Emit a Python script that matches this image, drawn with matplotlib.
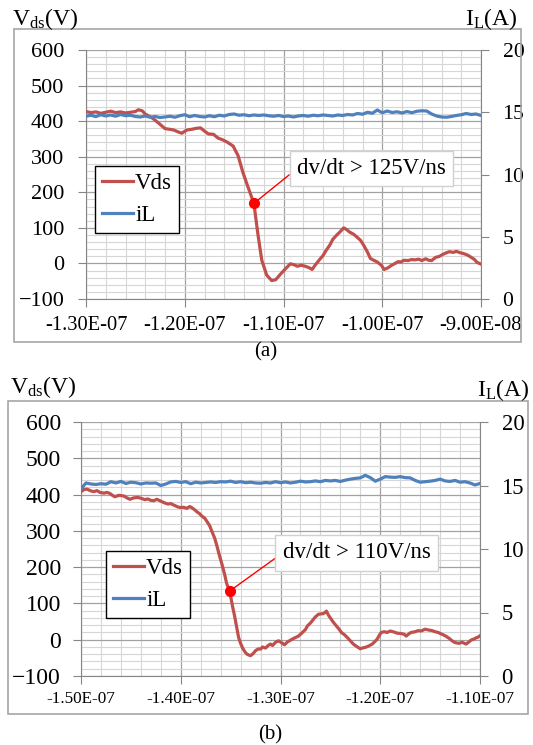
import numpy as np
import matplotlib
matplotlib.use("Agg")
import matplotlib.pyplot as plt
from matplotlib.patches import Rectangle
from matplotlib.ticker import MultipleLocator, FuncFormatter

plt.rcParams['font.family'] = ['Liberation Serif', 'DejaVu Serif']
plt.rcParams['mathtext.fontset'] = 'custom'
plt.rcParams['mathtext.rm'] = 'Liberation Serif'
plt.rcParams['mathtext.it'] = 'Liberation Serif:italic'

RED = '#C0504D'
BLUE = '#4F81BD'
GRAY = '#868686'

# ---- (a) turn-off waveform, time in ns ----
t_vds_a = [-130, -129.5, -129, -128.5, -128, -127.5, -127, -126.5, -126, -125.5,
           -125, -124.7, -124.3, -124.0, -123.6, -123.2, -122.8, -122.5, -122.0, -121.5,
           -121.1, -120.7, -120.3, -119.8, -119.3, -118.8, -118.4, -118.0, -117.6, -117.1,
           -116.6, -116.2, -115.7, -115.1, -114.6, -114.1, -113.6, -113.0, -112.6, -112.2,
           -111.7, -111.2, -110.8, -110.3, -109.8, -109.3, -108.9, -108.6, -108.2, -107.8,
           -107.4, -107.1, -106.8, -106.4, -106.0, -105.7, -105.3, -105.0, -104.6, -104.3,
           -103.9, -103.6, -103.3, -102.9, -102.6, -102.2, -101.9, -101.5, -101.2, -100.8,
           -100.5, -100.1, -99.8, -99.4, -99.1, -98.7, -98.4, -98.1, -97.8, -97.4,
           -97.0, -96.7, -96.3, -96.0, -95.6, -95.3, -95.0, -94.6, -94.2, -93.9,
           -93.5, -93.2, -92.8, -92.5, -92.1, -91.8, -91.4, -91.1, -90.7, -90.4, -90.0]
vds_a = [427, 424, 426, 422, 425, 428, 424, 426, 423, 425,
         427, 432, 429, 420, 414, 407, 398, 391, 379, 377,
         375, 370, 366, 375, 377, 380, 381, 372, 364, 363,
         352, 348, 341, 330, 303, 255, 215, 169, 84, 9,
         -33, -48, -46, -30, -15, -1, -4, -8, -5, -8,
         -12, -17, -5, 9, 22, 36, 52, 68, 80, 88,
         100, 95, 88, 82, 75, 65, 52, 32, 14, 8,
         4, -5, -17, -12, -6, 0, 5, 4, 9, 8,
         11, 10, 12, 8, 13, 9, 8, 17, 20, 25,
         30, 33, 31, 34, 30, 28, 24, 19, 12, 3, -2]
t_il_a = np.linspace(-130, -90, 81)
il_a = [14.68, 14.76, 14.65, 14.8, 14.7, 14.78, 14.68, 14.82, 14.72, 14.76,
        14.66, 14.62, 14.7, 14.6, 14.66, 14.58, 14.62, 14.68, 14.6, 14.72,
        14.8, 14.64, 14.74, 14.66, 14.62, 14.72, 14.64, 14.76, 14.7, 14.82,
        14.86, 14.76, 14.8, 14.72, 14.78, 14.74,
        14.78, 14.72, 14.68, 14.74, 14.66, 14.7, 14.62, 14.7, 14.74, 14.68,
        14.76, 14.72, 14.78, 14.74, 14.7, 14.78, 14.74, 14.82, 14.78, 14.9,
        14.84, 15.0, 14.92, 15.18, 14.96, 15.1, 14.98, 15.04, 14.94, 15.06,
        14.96, 15.08, 15.12, 15.1, 14.86, 14.7, 14.62, 14.6, 14.66, 14.74,
        14.8, 14.9, 14.82, 14.86, 14.74]
mark_a = (-113.0, 169)
note_a = 'dv/dt > 125V/ns'
xticks_a = [-1.3e-7, -1.2e-7, -1.1e-7, -1.0e-7, -9.0e-8]

# ---- (b) turn-off waveform, time in ns ----
t_vds_b = [-150.0, -149.7, -149.4, -149.0, -148.7, -148.4, -148.1, -147.7, -147.4, -147.1,
           -146.8, -146.6, -146.2, -145.7, -145.4, -145.1, -144.7, -144.3, -144.0, -143.6,
           -143.3, -143.0, -142.7, -142.4, -142.0, -141.7, -141.3, -141.0, -140.7, -140.3,
           -140.0, -139.7, -139.4, -139.1, -138.9, -138.6, -138.4, -138.1, -137.9, -137.6,
           -137.4, -137.1, -136.9, -136.6, -136.4, -136.1, -135.9, -135.6, -135.4, -135.1,
           -134.8, -134.6, -134.4, -134.2, -134.0, -133.8, -133.6, -133.4, -133.2, -133.0,
           -132.7, -132.5, -132.2, -132.0, -131.8, -131.5, -131.2, -131.0, -130.8, -130.5,
           -130.2, -129.9, -129.6, -129.3, -129.1, -128.8, -128.5, -128.2, -127.8, -127.5,
           -127.3, -127.0, -126.7, -126.5, -126.2, -126.0, -125.7, -125.5, -125.4, -125.2,
           -124.9, -124.7, -124.4, -124.1, -123.9, -123.6, -123.3, -123.0, -122.7, -122.4,
           -122.0, -121.8, -121.5, -121.2, -120.8, -120.5, -120.3, -120.1, -119.9, -119.6,
           -119.3, -119.0, -118.6, -118.3, -117.9, -117.6, -117.4, -117.1, -116.9, -116.5,
           -116.2, -115.9, -115.5, -115.2, -114.8, -114.5, -114.2, -113.8, -113.5, -113.1,
           -112.8, -112.5, -112.1, -111.8, -111.4, -111.1, -110.9, -110.6, -110.4, -110.2,
           -110.0]
vds_b = [408, 414, 415, 410, 408, 411, 406, 404, 406, 403,
         397, 394, 398, 396, 391, 387, 391, 392, 390, 386,
         388, 384, 383, 387, 382, 378, 374, 375, 371, 366,
         364, 365, 362, 367, 364, 358, 353, 347, 341, 335,
         327, 314, 300, 280, 261, 230, 211, 180, 155, 134,
         91, 65, 35, 6, -10, -23, -32, -39, -42, -44,
         -37, -30, -25, -26, -20, -23, -15, -12, -16, -7,
         -3, -8, -14, -6, -3, 2, 6, 10, 20, 28,
         38, 46, 56, 63, 70, 71, 72, 76, 79, 68,
         56, 48, 38, 28, 20, 14, 6, -3, -12, -18,
         -25, -23, -21, -18, -12, -4, 2, 12, 20, 22,
         20, 24, 21, 18, 17, 15, 10, 17, 20, 22,
         25, 24, 29, 27, 25, 22, 20, 15, 11, 4,
         -3, -8, -10, -7, -12, -6, -1, 2, 5, 7,
         11]
t_il_b = np.linspace(-150, -110, 81)
il_b = [14.74, 15.2, 15.12, 15.08, 15.14, 15.1, 15.3, 15.2, 15.32, 15.16,
        15.26, 15.22, 15.12, 15.2, 15.18, 15.2, 15.0, 15.12, 15.28, 15.32,
        15.24, 15.3, 15.14, 15.26, 15.2, 15.24, 15.28, 15.24, 15.3, 15.28,
        15.34, 15.24, 15.3, 15.22, 15.26, 15.2, 15.18,
        15.24, 15.2, 15.3, 15.22, 15.28, 15.2, 15.26, 15.34, 15.28, 15.3,
        15.36, 15.3, 15.4, 15.36, 15.4, 15.32, 15.42, 15.5, 15.56, 15.6,
        15.8, 15.62, 15.34, 15.5, 15.7, 15.66, 15.64, 15.7, 15.62, 15.6,
        15.4, 15.26, 15.3, 15.34, 15.4, 15.5, 15.36, 15.32, 15.4, 15.26,
        15.3, 15.2, 15.04, 15.16]
mark_b = (-135.1, 134)
note_b = 'dv/dt > 110V/ns'
xticks_b = [-1.5e-7, -1.4e-7, -1.3e-7, -1.2e-7, -1.1e-7]

W, H = 533, 745
fig = plt.figure(figsize=(W / 100, H / 100), dpi=100)


def px_rect(x0, y0, x1, y1):
    # pixel box (top-left origin) -> figure fraction [l, b, w, h]
    return [x0 / W, 1 - y1 / H, (x1 - x0) / W, (y1 - y0) / H]


def draw_panel(rect, frame, t_v, v, t_i, i, mark, note, note_pos, leg_pos,
               xticks, xfs, yfs, rfs, xpad, ypad):
    fig.add_artist(Rectangle((frame[0], frame[1]), frame[2], frame[3],
                             transform=fig.transFigure, fill=False,
                             ec='#a6a6a6', lw=1.2))
    ax = fig.add_axes(rect)
    ax2 = ax.twinx()

    ln_v, = ax.plot(np.array(t_v) * 1e-9, v, color=RED, lw=2.3, zorder=3)
    ln_i, = ax2.plot(np.array(t_i) * 1e-9, i, color=BLUE, lw=2.3)

    ax.set_xlim(xticks[0], xticks[-1])
    ax.set_ylim(-100, 600)
    ax2.set_ylim(0, 20)
    ax.set_xticks(xticks)
    ax.set_yticks(range(-100, 601, 100))
    ax2.set_yticks([0, 5, 10, 15, 20])
    ax.xaxis.set_minor_locator(MultipleLocator(2e-9))
    ax.yaxis.set_minor_locator(MultipleLocator(20))
    ax.xaxis.set_major_formatter(FuncFormatter(lambda x, p: f'{x:.2E}'))

    ax.set_axisbelow(True)
    ax.grid(which='minor', color='#d6d6d6', lw=0.8)
    ax.grid(which='major', color='#a2a2a2', lw=0.9)

    for s in ('top', 'right'):
        ax.spines[s].set_visible(False)
    for s in ('top', 'left', 'bottom'):
        ax2.spines[s].set_visible(False)
    for s in ('left', 'bottom'):
        ax.spines[s].set_color(GRAY)
    ax2.spines['right'].set_color(GRAY)

    ax.tick_params(axis='x', which='major', direction='out', length=5.5,
                   color=GRAY, labelsize=xfs, pad=xpad)
    ax.tick_params(axis='y', which='major', direction='out', length=5.5,
                   color=GRAY, labelsize=yfs, pad=ypad)
    ax.tick_params(which='minor', length=0)
    ax2.tick_params(axis='y', direction='out', length=5.5, color=GRAY,
                    labelsize=rfs, pad=10)

    # marked point on the falling edge with its slope note
    ax.plot(mark[0] * 1e-9, mark[1], 'o', color='red', ms=7, zorder=5)
    ax.annotate(note, xy=(mark[0] * 1e-9, mark[1]), xycoords='data',
                xytext=note_pos, textcoords='axes fraction',
                ha='center', va='center', fontsize=16.5, zorder=6,
                bbox=dict(boxstyle='square,pad=0.32', fc='white',
                          ec='#d0d0d0', lw=1),
                arrowprops=dict(arrowstyle='-', color='red', lw=1,
                                relpos=(0, 0.5), shrinkA=0, shrinkB=0))

    leg = ax2.legend([ln_v, ln_i], ['Vds', 'iL'], loc='upper left',
                     bbox_to_anchor=leg_pos, fontsize=16.5, frameon=True,
                     fancybox=False, edgecolor='black', framealpha=1,
                     handlelength=1.35, handletextpad=0.1, borderpad=0.3,
                     labelspacing=0.5, borderaxespad=0)
    leg.get_frame().set_linewidth(1.0)
    return ax


draw_panel(px_rect(86, 50, 481, 299), px_rect(14, 29, 521, 342),
           t_vds_a, vds_a, t_il_a, il_a, mark_a, note_a,
           (0.7228, 0.524), (0.0228, 0.534), xticks_a,
           14.8, 16, 15.6, 6.8, 10)
draw_panel(px_rect(81, 422, 480, 676), px_rect(8, 401, 528, 714),
           t_vds_b, vds_b, t_il_b, il_b, mark_b, note_b,
           (0.6905, 0.4843), (0.0627, 0.492), xticks_b,
           12.3, 17, 16.3, 5.5, 9)

# axis titles and panel captions
fig.text(12 / W, 1 - 25 / H, r'$\mathrm{V_{ds}(V)}$', fontsize=17, ha='left', va='baseline')
fig.text(518 / W, 1 - 25 / H, r'$\mathrm{I_{L}(A)}$', fontsize=17, ha='right', va='baseline')
fig.text(10 / W, 1 - 393 / H, r'$\mathrm{V_{ds}(V)}$', fontsize=17, ha='left', va='baseline')
fig.text(530 / W, 1 - 396 / H, r'$\mathrm{I_{L}(A)}$', fontsize=17, ha='right', va='baseline')
fig.text(266 / W, 1 - 352 / H, '(a)', fontsize=15, ha='center', va='center')
fig.text(270 / W, 1 - 735 / H, '(b)', fontsize=15, ha='center', va='center')

fig.savefig('out.png', dpi=100, facecolor='white')
